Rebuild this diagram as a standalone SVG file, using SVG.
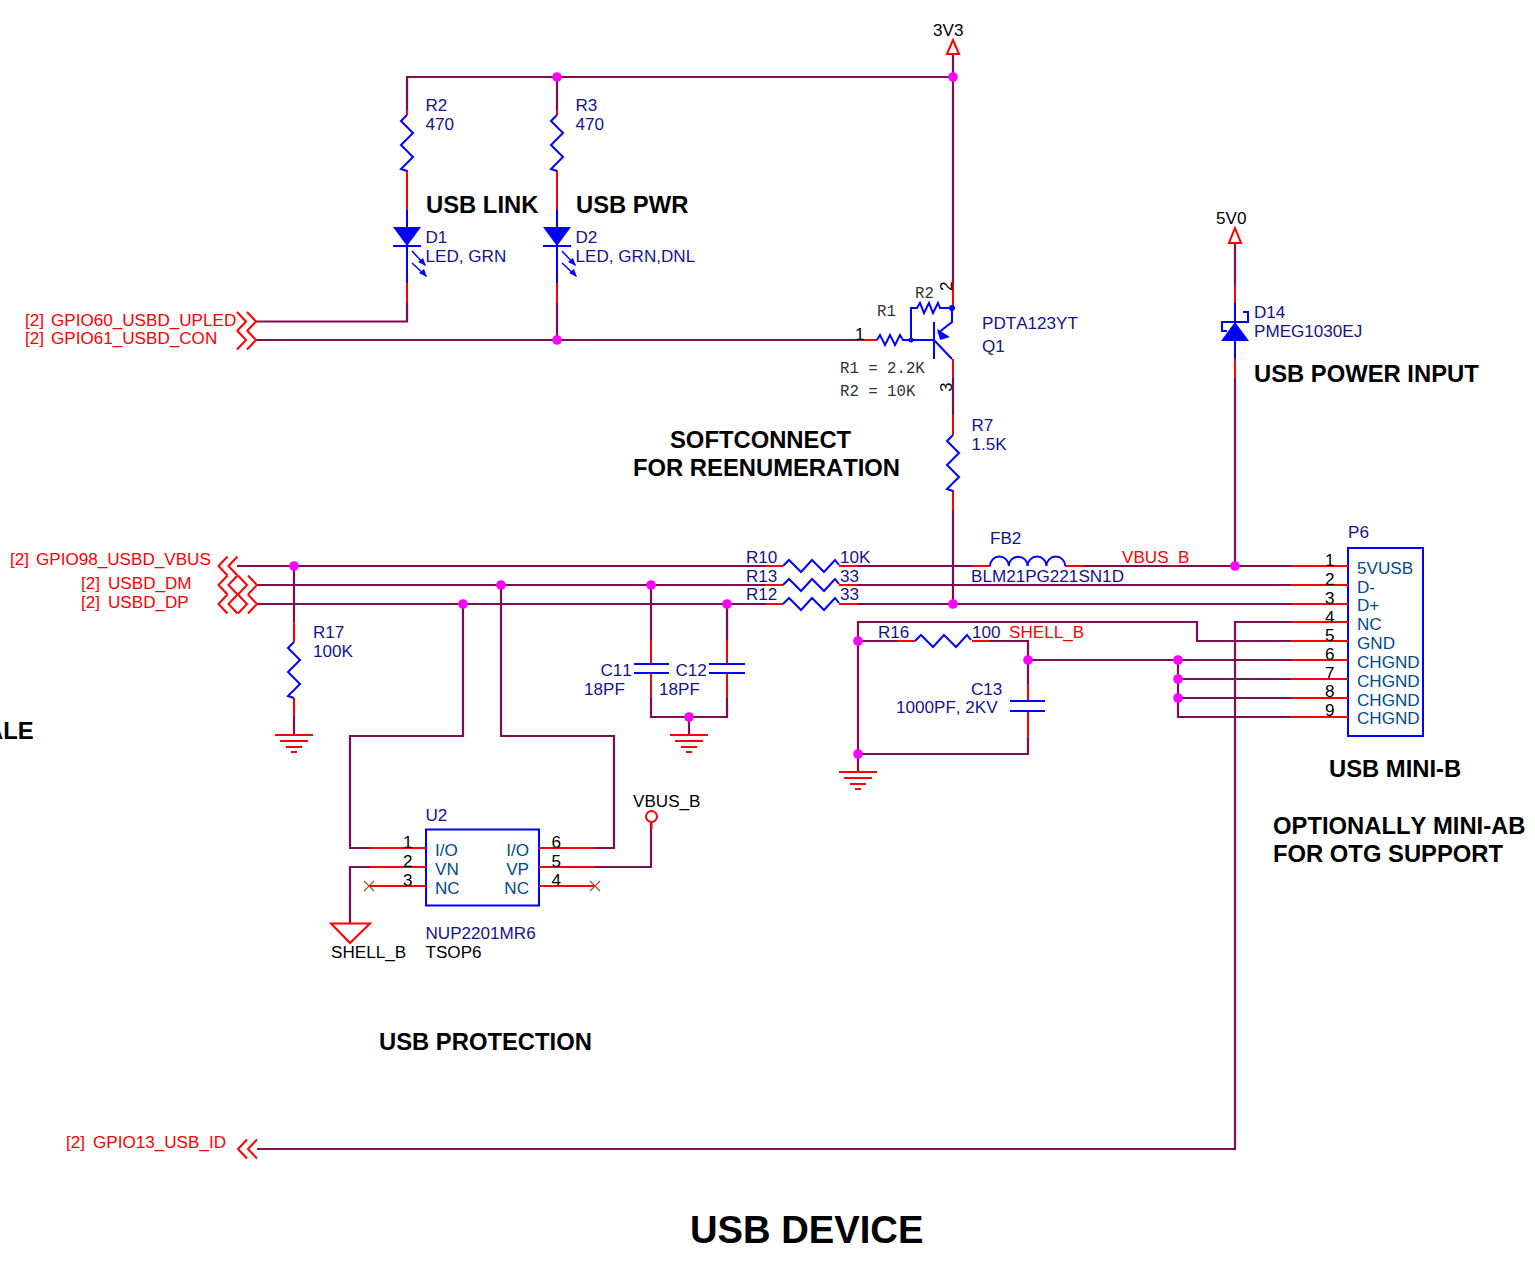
<svg xmlns="http://www.w3.org/2000/svg" width="1535" height="1268" viewBox="0 0 1535 1268">
<style>
text{font-family:"Liberation Sans",Arial,sans-serif;font-size:17.1px;fill:#000;font-kerning:none}
.n{fill:#14148c}.r{fill:#ff0000}.p{fill:#004a87}.h{font-weight:bold;font-size:23.8px}
.m{font-family:"Liberation Mono","Courier New",monospace;font-size:15.7px;fill:#333}
path,polyline,line,rect{fill:none}
.w{stroke:#7a1050;stroke-width:2.2}.e{stroke:#ff0000;stroke-width:2}.b{stroke:#0000ff;stroke-width:2}.t{stroke:#0000ff;stroke-width:1.5}
.f{fill:#0000ff;stroke:none}.j{fill:#ff00ff;stroke:none}.c{fill:none;stroke:#ff0000;stroke-width:2}
.x{stroke:#8b5a2b;stroke-width:1.2}
</style>
<defs>
<path id="zv" class="b" d="M0 0l-6 6 12 12-12 12 12 12-12 12 6 2"/>
<path id="zh" class="b" d="M0 0l6-6 12 12 11-12 12 12 11-12 4 5"/>
<path id="ll" class="c" d="M9-9.500L0 0l9 9.500M19-9.500L10 0l9 9.500"/>
<path id="rr" class="c" d="M0-9.500L9 0l-9 9.500M10-9.500L19 0l-9 9.500"/>
<g id="gnd" class="e"><line x1="-19" x2="19"/><line x1="-14" x2="14" y="0" transform="translate(0 6)"/><line x1="-8" x2="8" transform="translate(0 12)"/><line x1="-3" x2="3" transform="translate(0 17)"/></g>
<g id="led"><path class="f" d="M-14 0H14L0 19Z"/><path class="b" d="M-14 19H14M0-17V56"/><path class="t" d="M5 24L18 38M5 36L19 49"/><path class="f" d="M19 39l-3-8-5 4zM20 50l-3-8-5 4z"/></g>
</defs>

<g id="connectors">
<path class="w" d="M407 115V77H953M557 77V115M953 54V283M407 303V321.500H256M557 303V340M256 340H860"/>
<path class="w" d="M953 377V415M953 510V604M237 566H765M858 566H972M1083 566H1291M257 585H765M858 585H1291M257 604H765M858 604H1291"/>
<path class="w" d="M1235 243V285M1235 378V566M294 566V622M294 716V735M651 585V640M727 604V640M651 697V717H727V697M689 717V735"/>
<path class="w" d="M463 604V736H350V848H370M501 585V736H614V848H595M370 867H350V923M595 867H651V823"/>
<path class="w" d="M897 641H858V622H1197V641H1291M990 641H1028V684M1028 738V754H858V641M858 754V772"/>
<path class="w" d="M1028 660H1291M1178 660V717H1291M1178 679H1291M1178 698H1291M1291 622H1235V1149H257"/>
</g>

<g id="junctions">
<circle class="j" cx="557" cy="77" r="4.8"/><circle class="j" cx="953" cy="77" r="4.8"/><circle class="j" cx="557" cy="340" r="4.8"/><circle class="j" cx="294" cy="566" r="4.8"/><circle class="j" cx="501" cy="585" r="4.8"/><circle class="j" cx="651" cy="585" r="4.8"/><circle class="j" cx="463" cy="604" r="4.8"/><circle class="j" cx="727" cy="604" r="4.8"/><circle class="j" cx="953" cy="604" r="4.8"/><circle class="j" cx="1235" cy="566" r="4.8"/><circle class="j" cx="858" cy="641" r="4.8"/><circle class="j" cx="1028" cy="660" r="4.8"/><circle class="j" cx="1178" cy="660" r="4.8"/><circle class="j" cx="1178" cy="679" r="4.8"/><circle class="j" cx="1178" cy="698" r="4.8"/><circle class="j" cx="689" cy="717" r="4.8"/><circle class="j" cx="858" cy="754" r="4.8"/>
</g>

<g id="pwr-3v3"><path class="c" d="M953 40L959 54H947Z"/><text x="933" y="36">3V3</text></g>
<g id="pwr-5v0"><path class="c" d="M1235 228L1241 243H1229Z"/><text x="1216" y="224">5V0</text></g>

<g id="R2"><path class="e" d="M407 110V115M407 170V210"/><use href="#zv" x="407" y="115"/><text class="n" x="425.500" y="111">R2</text><text class="n" x="425.500" y="130">470</text></g>
<g id="R3"><path class="e" d="M557 110V115M557 170V210"/><use href="#zv" x="557" y="115"/><text class="n" x="575.500" y="111">R3</text><text class="n" x="575.500" y="130">470</text></g>
<g id="D1"><use href="#led" x="407" y="227"/><path class="e" d="M407 283V303"/><text class="n" x="425.500" y="243">D1</text><text class="n" x="425.500" y="262">LED, GRN</text></g>
<g id="D2"><use href="#led" x="557" y="227"/><path class="e" d="M557 283V303"/><text class="n" x="575.500" y="243">D2</text><text class="n" x="575.500" y="262">LED, GRN,DNL</text></g>

<g id="Q1">
<path class="e" d="M860 340H877M953 283V308M953 359V377"/>
<path class="b" d="M877 340l3-5 5 10 5-10 5 10 5-10 3 5H934M911 340V308H917l3-5 4 10 5-10 4 10 5-10 2 5H952M934 322V359M934 340L952 359M952 308V322L938 333"/>
<path class="f" d="M937 329L950 337L940 340Z"/><circle class="f" cx="911" cy="340" r="2.5"/><circle class="f" cx="952" cy="308" r="3"/>
<text x="855" y="340">1</text>
<text transform="translate(952 291) rotate(-90)">2</text>
<text transform="translate(952 392) rotate(-90)">3</text>
<text class="m" x="877" y="316">R1</text><text class="m" x="915" y="298">R2</text>
<text class="m" x="840" y="373">R1 = 2.2K</text><text class="m" x="840" y="396">R2 = 10K</text>
<text class="n" x="982" y="329">PDTA123YT</text><text class="n" x="982" y="352">Q1</text>
</g>

<g id="R7"><path class="e" d="M953 415V435M953 490V510"/><use href="#zv" x="953" y="435"/><text class="n" x="971.500" y="431">R7</text><text class="n" x="971.500" y="450">1.5K</text></g>

<g id="D14">
<path class="e" d="M1235 285V303M1235 358V378"/>
<path class="b" d="M1235 303V322M1235 341V358M1243 312H1248V322H1222V331H1227"/>
<path class="f" d="M1221 341H1249L1235 322Z"/>
<text class="n" x="1254" y="318">D14</text><text class="n" x="1254" y="337">PMEG1030EJ</text>
</g>

<g id="off-page">
<use href="#rr" x="237" y="321.500"/><use href="#rr" x="237" y="340"/>
<text class="r" x="25" y="326">[2]</text><text class="r" x="51" y="326">GPIO60_USBD_UPLED</text>
<text class="r" x="25" y="344">[2]</text><text class="r" x="51" y="344">GPIO61_USBD_CON</text>
<use href="#ll" x="218.500" y="566"/>
<use href="#ll" x="218.500" y="585"/><use href="#rr" x="238" y="585"/>
<use href="#ll" x="218.500" y="604"/><use href="#rr" x="238" y="604"/>
<text class="r" x="10" y="565">[2]</text><text class="r" x="36" y="565">GPIO98_USBD_VBUS</text>
<text class="r" x="81" y="589">[2]</text><text class="r" x="108" y="589">USBD_DM</text>
<text class="r" x="81" y="608">[2]</text><text class="r" x="108" y="608">USBD_DP</text>
<use href="#ll" x="238" y="1149"/>
<text class="r" x="66" y="1148">[2]</text><text class="r" x="93" y="1148">GPIO13_USB_ID</text>
</g>

<g id="R10"><path class="e" d="M765 566H783M839 566H858"/><use href="#zh" x="783" y="566"/><text class="n" x="746" y="563">R10</text><text class="n" x="840" y="563">10K</text></g>
<g id="R13"><path class="e" d="M765 585H783M839 585H858"/><use href="#zh" x="783" y="585"/><text class="n" x="746" y="582">R13</text><text class="n" x="840" y="582">33</text></g>
<g id="R12"><path class="e" d="M765 604H783M839 604H858"/><use href="#zh" x="783" y="604"/><text class="n" x="746" y="600">R12</text><text class="n" x="840" y="600">33</text></g>
<g id="FB2"><path class="e" d="M972 566H990M1065 566H1083"/><path class="b" d="M990 566a9.400 9.400 0 0 1 18.800 0a9.400 9.400 0 0 1 18.800 0a9.400 9.400 0 0 1 18.800 0a9.400 9.400 0 0 1 18.800 0"/><text class="n" x="990" y="544">FB2</text><text class="n" x="971" y="582">BLM21PG221SN1D</text><text class="r" x="1122" y="563">VBUS_B</text></g>

<g id="R17"><path class="e" d="M294 622V642M294 698V716"/><use href="#zv" x="294" y="642"/><text class="n" x="313" y="638">R17</text><text class="n" x="313" y="657">100K</text><use href="#gnd" x="294" y="735"/></g>
<g id="C11"><path class="e" d="M651 640V664M651 673V697"/><path class="b" d="M634 664H669M634 673H669"/><text class="n" x="600.500" y="676">C11</text><text class="n" x="584" y="695">18PF</text></g>
<g id="C12"><path class="e" d="M727 640V664M727 673V697"/><path class="b" d="M709 664H745M709 673H745"/><text class="n" x="675.500" y="676">C12</text><text class="n" x="659" y="695">18PF</text><use href="#gnd" x="689" y="735"/></g>
<g id="R16"><path class="e" d="M897 641H915M972 641H990"/><use href="#zh" x="915" y="641"/><text class="n" x="878" y="638">R16</text><text class="n" x="972" y="638">100</text><text class="r" x="1009" y="638">SHELL_B</text></g>
<g id="C13"><path class="e" d="M1028 684V701M1028 711V738"/><path class="b" d="M1010 701H1045M1010 711H1045"/><text class="n" x="971" y="695">C13</text><text class="n" x="896" y="713">1000PF, 2KV</text><use href="#gnd" x="858" y="772"/></g>

<g id="U2">
<rect class="b" x="426" y="829.500" width="113" height="76"/>
<path class="e" d="M370 848H426M370 867H426M369 886H426M539 848H595M539 867H595M539 886H595"/>
<path class="x" d="M364 881l10 10M374 881l-10 10M590 881l10 10M600 881l-10 10"/>
<text x="403" y="848">1</text><text x="403" y="867">2</text><text x="403" y="886">3</text>
<text x="551.500" y="848">6</text><text x="551.500" y="867">5</text><text x="551.500" y="886">4</text>
<text class="p" x="435" y="856">I/O</text><text class="p" x="435" y="875">VN</text><text class="p" x="435" y="894">NC</text>
<text class="p" x="529" y="856" text-anchor="end">I/O</text><text class="p" x="529" y="875" text-anchor="end">VP</text><text class="p" x="529" y="894" text-anchor="end">NC</text>
<text class="n" x="425.500" y="821">U2</text><text class="n" x="425.500" y="939">NUP2201MR6</text><text x="425.500" y="958">TSOP6</text>
</g>
<g id="shell-b"><path class="c" d="M331 923.500H370L350 943Z"/><text x="331" y="958">SHELL_B</text></g>
<g id="vbus-b"><circle class="c" cx="651.500" cy="816.500" r="5.500"/><path class="e" d="M651.500 822V829"/><text x="633" y="807">VBUS_B</text></g>

<g id="P6">
<rect class="b" x="1348" y="548" width="75" height="188"/>
<path class="e" d="M1291 566H1348M1291 585H1348M1291 604H1348M1291 622H1348M1291 641H1348M1291 660H1348M1291 679H1348M1291 698H1348M1291 717H1348"/>
<g><text x="1325" y="566">1</text><text x="1325" y="585">2</text><text x="1325" y="604">3</text><text x="1325" y="623">4</text><text x="1325" y="641">5</text><text x="1325" y="660">6</text><text x="1325" y="679">7</text><text x="1325" y="697">8</text><text x="1325" y="716">9</text></g>
<text class="p" x="1357" y="574">5VUSB</text><text class="p" x="1357" y="593">D-</text><text class="p" x="1357" y="611">D+</text><text class="p" x="1357" y="630">NC</text><text class="p" x="1357" y="649">GND</text><text class="p" x="1357" y="668">CHGND</text><text class="p" x="1357" y="687">CHGND</text><text class="p" x="1357" y="706">CHGND</text><text class="p" x="1357" y="724">CHGND</text>
<text class="n" x="1348" y="538">P6</text>
</g>

<g id="titles">
<text class="h" x="426" y="213">USB LINK</text>
<text class="h" x="576" y="213">USB PWR</text>
<text class="h" x="1254" y="382">USB POWER INPUT</text>
<text class="h" x="670" y="448">SOFTCONNECT</text>
<text class="h" x="633" y="476">FOR REENUMERATION</text>
<text class="h" x="-14" y="739">ALE</text>
<text class="h" x="1329" y="777">USB MINI-B</text>
<text class="h" x="1273" y="834">OPTIONALLY MINI-AB</text>
<text class="h" x="1273" y="862">FOR OTG SUPPORT</text>
<text class="h" x="379" y="1050">USB PROTECTION</text>
<text class="h" x="690" y="1243" style="font-size:38.200px">USB DEVICE</text>
</g>
</svg>
